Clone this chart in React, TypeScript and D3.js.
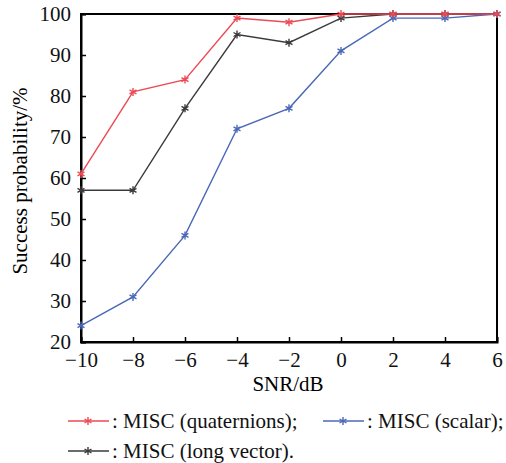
import React, { useEffect, useRef } from 'react';
import * as d3 from 'd3';

// SNR values (dB) on the x axis
const snr = [-10, -8, -6, -4, -2, 0, 2, 4, 6];
// success probability (%) per method
const quaternions = [61, 81, 84, 99, 98, 100, 100, 100, 100];
const scalar = [24, 31, 46, 72, 77, 91, 99, 99, 100];
const longVector = [57, 57, 77, 95, 93, 99, 100, 100, 100];
const yTicks = [20, 30, 40, 50, 60, 70, 80, 90, 100];

const W = 506;
const H = 463;
const margin = { left: 81, top: 14, right: 9, bottom: 121 };
const font = "'Liberation Serif', 'Times New Roman', Times, serif";

export default function App() {
  const ref = useRef<SVGSVGElement>(null);

  useEffect(() => {
    const svg = d3.select(ref.current);
    svg.selectAll('*').remove();

    const x = d3.scaleLinear().domain([-10, 6]).range([margin.left, W - margin.right]);
    const y = d3.scaleLinear().domain([20, 100]).range([H - margin.bottom, margin.top]);

    const series = [
      { name: ': MISC (long vector).', values: longVector, color: '#3a3a3a' },
      { name: ': MISC (scalar);', values: scalar, color: '#4a68b8' },
      { name: ': MISC (quaternions);', values: quaternions, color: '#ec4a55' },
    ];

    // frame
    svg.append('rect')
      .attr('x', x(-10)).attr('y', y(100))
      .attr('width', x(6) - x(-10)).attr('height', y(20) - y(100))
      .attr('fill', 'none').attr('stroke', '#000').attr('stroke-width', 2);

    // axes (ticks point inward)
    const xAxis = svg.append('g')
      .attr('transform', `translate(0,${y(20)})`)
      .call(d3.axisBottom(x).tickValues(snr).tickSize(-5).tickPadding(10)
        .tickFormat((d) => String(d).replace('-', '\u2212')));
    const yAxis = svg.append('g')
      .attr('transform', `translate(${x(-10)},0)`)
      .call(d3.axisLeft(y).tickValues(yTicks).tickSize(-5).tickPadding(10));
    [xAxis, yAxis].forEach((a) => {
      a.attr('font-family', null).attr('font-size', null);
      a.select('.domain').attr('stroke', '#000').attr('stroke-width', 2);
      a.selectAll('line').attr('stroke', '#000').attr('stroke-width', 1.5);
      a.selectAll('text').style('font-family', font).style('font-size', '21px').attr('fill', '#111');
    });

    const line = d3.line<number>().x((_, i) => x(snr[i])).y((d) => y(d));
    const star = d3.symbol().type(d3.symbolAsterisk).size(45);

    series.forEach((s) => {
      svg.append('path')
        .attr('d', line(s.values))
        .attr('fill', 'none').attr('stroke', s.color).attr('stroke-width', 1.4);
      svg.append('g').selectAll('path').data(s.values).join('path')
        .attr('d', star)
        .attr('transform', (d, i) => `translate(${x(snr[i])},${y(d)})`)
        .attr('fill', 'none').attr('stroke', s.color).attr('stroke-width', 1.4);
    });

    // axis titles
    svg.append('text')
      .attr('x', 288).attr('y', 391)
      .attr('text-anchor', 'middle')
      .style('font-family', font).style('font-size', '21px')
      .text('SNR/dB');
    svg.append('text')
      .attr('transform', `translate(27,181) rotate(-90)`)
      .attr('text-anchor', 'middle')
      .style('font-family', font).style('font-size', '21px')
      .text('Success probability/%');

    // legend
    const legend = [
      { s: series[2], lx: 68, ly: 421 },
      { s: series[1], lx: 323, ly: 421 },
      { s: series[0], lx: 68, ly: 451 },
    ];
    legend.forEach(({ s, lx, ly }) => {
      const g = svg.append('g').attr('transform', `translate(${lx},${ly})`);
      g.append('line').attr('x1', 0).attr('x2', 41)
        .attr('stroke', s.color).attr('stroke-width', 1.4);
      g.append('path').attr('d', star).attr('transform', 'translate(20,0)')
        .attr('fill', 'none').attr('stroke', s.color).attr('stroke-width', 1.4);
      g.append('text').attr('x', 44).attr('dy', '0.35em')
        .style('font-family', font).style('font-size', '21px').attr('fill', '#111')
        .text(s.name);
    });
  }, []);

  return (
    <svg ref={ref} width={W} height={H}
      style={{ position: 'absolute', left: 0, top: 0, background: '#fff' }} />
  );
}
